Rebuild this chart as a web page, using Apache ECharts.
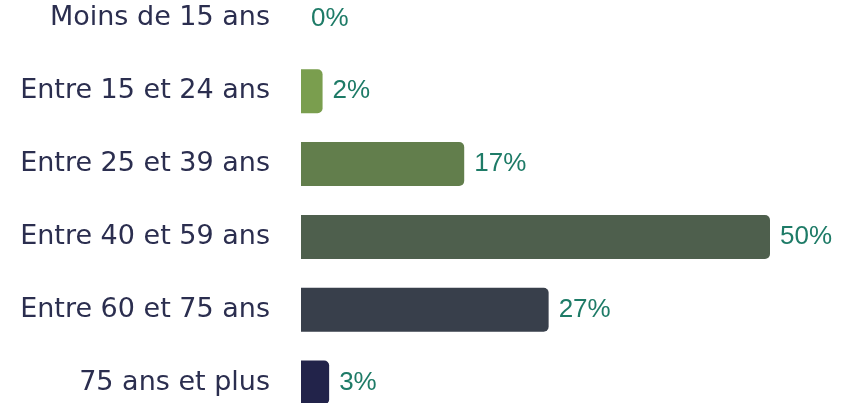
<!DOCTYPE html>
<html><head><meta charset="utf-8">
<script src="https://cdn.jsdelivr.net/npm/echarts@6/dist/echarts.min.js"></script>
<style>html,body{margin:0;padding:0;background:#fff;overflow:hidden}#c{position:absolute;left:0;top:-18px;width:852px;height:437px}</style>
</head><body><div id="c"></div>
<script>
const categories = ["Moins de 15 ans","Entre 15 et 24 ans","Entre 25 et 39 ans","Entre 40 et 59 ans","Entre 60 et 75 ans","75 ans et plus"];
const values = [0, 2.3, 17.4, 50, 26.4, 3];
const valueLabels = ["0%","2%","17%","50%","27%","3%"];
const barColors = ["#7a9e4e","#7a9e4e","#627e4c","#4e5f4d","#383f4b","#22234a"];

const chart = echarts.init(document.getElementById('c'));
chart.setOption({
  animation:false,
  grid:{left:301, right:82, top:0, bottom:0, containLabel:false},
  xAxis:{type:'value', min:0, max:50, show:false},
  yAxis:{type:'category', data:categories, inverse:true,
    axisLine:{show:false}, axisTick:{show:false},
    axisLabel:{margin:31, color:'#2b2e4f', fontSize:27, fontFamily:'DejaVu Sans'}},
  series:[{type:'bar', barWidth:44,
    data:values.map((v,i)=>({value:v, itemStyle:{color:barColors[i]}})),
    itemStyle:{borderRadius:[0,5,5,0]},
    label:{show:true, position:'right', distance:10, color:'#1e7b67', fontSize:26, fontFamily:'Liberation Sans',
      formatter:p=>valueLabels[p.dataIndex]}
  }]
});
</script></body></html>
